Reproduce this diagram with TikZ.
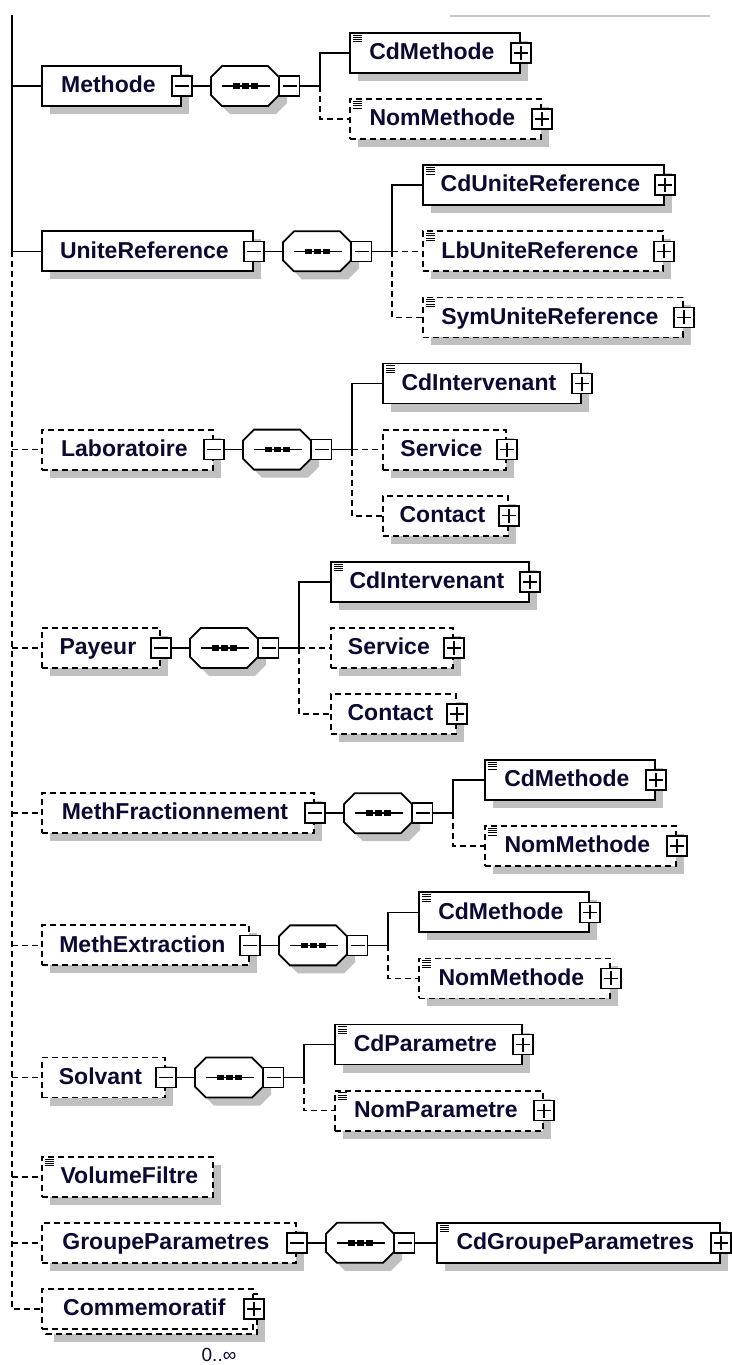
\documentclass[tikz,border=0pt]{standalone}
\usepackage{fontspec}
\setmainfont{Liberation Sans}
\usetikzlibrary{shadows}
\definecolor{txt}{RGB}{10,10,50}
\definecolor{shad}{RGB}{192,192,192}
\definecolor{topgray}{RGB}{200,200,200}
\newcommand\lblfont{\fontsize{23}{27}\selectfont\bfseries}
\newcommand\xicon[1]{\foreach \k in {3.2,5.4,7.6,9.8}{\draw[iconline] ([xshift=4pt,yshift=-\k pt]#1.north west) -- ++(9,0);}}
\newcommand\seqc[3]{%
  \begin{scope}[shift={(#2,#3)}]
    \fill[shad] (8,-1) -- (19,-12) -- (65,-12) -- (76,-1) -- (76,17) -- (65,28) -- (19,28) -- (8,17) -- cycle;
    \draw[seqline] (0,-9) -- (11,-20) -- (57,-20) -- (68,-9) -- (68,9) -- (57,20) -- (11,20) -- (0,9) -- cycle;
    \node[seqbox] (#1) at (34,0) {};
    \draw[conn] (11,0) -- (59,0);
    \foreach \d in {25.5,34.5,43.5}{\fill (\d-3.1,-2.7) rectangle (\d+3.1,2.7);}
    \node[minusbox] (#1m) at (78.5,0) {};
  \end{scope}}
\begin{document}
\begin{tikzpicture}[x=1pt,y=-1pt,
  conn/.style={draw=black,line width=1.6pt},
  dconn/.style={conn,dash pattern=on 6pt off 4pt},
  boxbase/.style={rectangle,draw=black,fill=white,line width=1.8pt,inner sep=0pt,minimum height=40pt,anchor=west,font=\lblfont,text=txt,text height=17.5pt,text depth=4.1pt},
  shadowed/.style={drop shadow={shadow xshift=8pt,shadow yshift=-8pt,fill=shad,opacity=1}},
  mandbox/.style={boxbase,shadowed},
  optbox/.style={boxbase,shadowed,dash pattern=on 6pt off 4pt},
  optnoshadow/.style={boxbase,dash pattern=on 6pt off 4pt},
  pmbase/.style={rectangle,draw=black,fill=white,line width=1.6pt,minimum size=20pt,inner sep=0pt,anchor=center},
  plusbox/.style={pmbase,path picture={\draw[line width=1.5pt] ([xshift=3pt]path picture bounding box.west) -- ([xshift=-3pt]path picture bounding box.east) ([yshift=-3pt]path picture bounding box.north) -- ([yshift=3pt]path picture bounding box.south);}},
  minusbox/.style={pmbase,path picture={\draw[line width=1.5pt] ([xshift=3pt]path picture bounding box.west) -- ([xshift=-3pt]path picture bounding box.east);}},
  seqline/.style={draw=black,fill=white,line width=1.8pt},
  seqbox/.style={rectangle,minimum width=68pt,minimum height=40pt,inner sep=0pt},
  iconline/.style={draw=black,line width=0.9pt},
  cardlabel/.style={font=\fontsize{19}{22}\selectfont,text=txt,inner sep=0pt}
]
\useasboundingbox (0,0) rectangle (731,1365);
\fill[white] (0,0) rectangle (731,1365);
\draw[topgray,line width=1.2pt] (450,16) -- (710,16);

% ---------- Methode
\node[mandbox,minimum width=139] (meth) at (41,86.05) {Methode\kern6pt};
\node[minusbox] (methpm) at (meth.east) {};
\seqc{sq1}{211}{86.05}
\coordinate (br1) at (320,86.05);
\node[mandbox,minimum width=170] (cdm1) at (349,53) {CdMethode\kern6pt};
\node[plusbox] (cdm1pm) at (cdm1.east) {};
\xicon{cdm1}
\node[optbox,minimum width=191] (nom1) at (349,119.1) {NomMethode\kern6pt};
\node[plusbox] (nom1pm) at (nom1.east) {};
\xicon{nom1}

% ---------- UniteReference
\node[mandbox,minimum width=211] (unite) at (41,251.3) {UniteReference\kern6pt};
\node[minusbox] (unitepm) at (unite.east) {};
\seqc{sq2}{283}{251.3}
\coordinate (br2) at (392,251.3);
\node[mandbox,minimum width=241] (cdu) at (422,185.2) {CdUniteReference\kern6pt};
\node[plusbox] (cdupm) at (cdu.east) {};
\xicon{cdu}
\node[optbox,minimum width=240] (lbu) at (422,251.3) {LbUniteReference\kern6pt};
\node[plusbox] (lbupm) at (lbu.east) {};
\xicon{lbu}
\node[optbox,minimum width=260] (symu) at (422,317.4) {SymUniteReference\kern6pt};
\node[plusbox] (symupm) at (symu.east) {};
\xicon{symu}

% ---------- Laboratoire
\node[optbox,minimum width=171] (lab) at (41,449.6) {Laboratoire\kern6pt};
\node[minusbox] (labpm) at (lab.east) {};
\seqc{sq3}{243}{449.6}
\coordinate (br3) at (352,449.6);
\node[mandbox,minimum width=198] (cdi3) at (382,383.5) {CdIntervenant\kern6pt};
\node[plusbox] (cdi3pm) at (cdi3.east) {};
\xicon{cdi3}
\node[optbox,minimum width=123] (serv3) at (382,449.6) {Service\kern6pt};
\node[plusbox] (serv3pm) at (serv3.east) {};
\node[optbox,minimum width=125] (cont3) at (382,515.7) {Contact\kern6pt};
\node[plusbox] (cont3pm) at (cont3.east) {};

% ---------- Payeur
\node[optbox,minimum width=118] (pay) at (41,647.9) {Payeur\kern6pt};
\node[minusbox] (paypm) at (pay.east) {};
\seqc{sq4}{190}{647.9}
\coordinate (br4) at (299,647.9);
\node[mandbox,minimum width=198] (cdi4) at (330,581.8) {CdIntervenant\kern6pt};
\node[plusbox] (cdi4pm) at (cdi4.east) {};
\xicon{cdi4}
\node[optbox,minimum width=122] (serv4) at (330,647.9) {Service\kern6pt};
\node[plusbox] (serv4pm) at (serv4.east) {};
\node[optbox,minimum width=125] (cont4) at (330,714) {Contact\kern6pt};
\node[plusbox] (cont4pm) at (cont4.east) {};

% ---------- MethFractionnement
\node[optbox,minimum width=272] (mf) at (41,813.15) {MethFractionnement\kern6pt};
\node[minusbox] (mfpm) at (mf.east) {};
\seqc{sq5}{344}{813.15}
\coordinate (br5) at (453,813.15);
\node[mandbox,minimum width=170] (cdm5) at (484,780.1) {CdMethode\kern6pt};
\node[plusbox] (cdm5pm) at (cdm5.east) {};
\xicon{cdm5}
\node[optbox,minimum width=191] (nom5) at (484,846.2) {NomMethode\kern6pt};
\node[plusbox] (nom5pm) at (nom5.east) {};
\xicon{nom5}

% ---------- MethExtraction
\node[optbox,minimum width=207] (me) at (41,945.35) {MethExtraction\kern6pt};
\node[minusbox] (mepm) at (me.east) {};
\seqc{sq6}{279}{945.35}
\coordinate (br6) at (388,945.35);
\node[mandbox,minimum width=170] (cdm6) at (418,912.3) {CdMethode\kern6pt};
\node[plusbox] (cdm6pm) at (cdm6.east) {};
\xicon{cdm6}
\node[optbox,minimum width=191] (nom6) at (418,978.4) {NomMethode\kern6pt};
\node[plusbox] (nom6pm) at (nom6.east) {};
\xicon{nom6}

% ---------- Solvant
\node[optbox,minimum width=123] (solv) at (41,1077.55) {Solvant\kern6pt};
\node[minusbox] (solvpm) at (solv.east) {};
\seqc{sq7}{195}{1077.55}
\coordinate (br7) at (304,1077.55);
\node[mandbox,minimum width=187] (cdp7) at (334,1044.5) {CdParametre\kern6pt};
\node[plusbox] (cdp7pm) at (cdp7.east) {};
\xicon{cdp7}
\node[optbox,minimum width=208] (nomp7) at (334,1110.6) {NomParametre\kern6pt};
\node[plusbox] (nomp7pm) at (nomp7.east) {};
\xicon{nomp7}

% ---------- VolumeFiltre
\node[optbox,minimum width=171] (vf) at (41,1176.7) {\kern4pt VolumeFiltre};
\xicon{vf}

% ---------- GroupeParametres
\node[optbox,minimum width=254] (gp) at (41,1242.8) {GroupeParametres\kern6pt};
\node[minusbox] (gppm) at (gp.east) {};
\seqc{sq8}{326}{1242.8}
\node[mandbox,minimum width=283] (cdgp) at (436,1242.8) {CdGroupeParametres\kern6pt};
\node[plusbox] (cdgppm) at (cdgp.east) {};
\xicon{cdgp}

% ---------- Commemoratif (0..unbounded)
\fill[shad] (54,1301.9) rectangle (265,1341.9);
\draw[line width=1.8pt,dash pattern=on 6pt off 4pt,fill=white] (46,1293.9) rectangle (257,1333.9);
\node[optnoshadow,minimum width=211] (comm) at (41,1308.9) {Commemoratif\kern6pt};
\node[plusbox] (commpm) at (comm.east) {};
\node[cardlabel] (card) at (219,1355) {0..∞};

% ---------- trunk
\coordinate (ttop) at (12,15);
\coordinate (tsplit) at (12,251.3);
\coordinate (tbot) at (12,1308.9);
\draw[conn] (ttop) -- (tsplit) -- (unite.west);
\draw[conn] (meth.west -| ttop) -- (meth.west);
\draw[dconn] (tsplit) -- (tbot) -- (comm.west);
\foreach \n in {lab,pay,mf,me,solv,vf,gp}{\draw[dconn] (\n.west -| ttop) -- (\n.west);}

% ---------- element to sequence
\foreach \p/\s in {methpm/sq1,unitepm/sq2,labpm/sq3,paypm/sq4,mfpm/sq5,mepm/sq6,solvpm/sq7,gppm/sq8}{\draw[conn] (\p.east) -- (\s.west);}

% ---------- sequence branches
\draw[conn] (sq1m.east) -- (br1) |- (cdm1.west);
\draw[dconn] (br1) |- (nom1.west);
\draw[conn] (sq2m.east) -- (br2) |- (cdu.west);
\draw[dconn] (br2) -- (lbu.west);
\draw[dconn] (br2) |- (symu.west);
\draw[conn] (sq3m.east) -- (br3) |- (cdi3.west);
\draw[dconn] (br3) -- (serv3.west);
\draw[dconn] (br3) |- (cont3.west);
\draw[conn] (sq4m.east) -- (br4) |- (cdi4.west);
\draw[dconn] (br4) -- (serv4.west);
\draw[dconn] (br4) |- (cont4.west);
\draw[conn] (sq5m.east) -- (br5) |- (cdm5.west);
\draw[dconn] (br5) |- (nom5.west);
\draw[conn] (sq6m.east) -- (br6) |- (cdm6.west);
\draw[dconn] (br6) |- (nom6.west);
\draw[conn] (sq7m.east) -- (br7) |- (cdp7.west);
\draw[dconn] (br7) |- (nomp7.west);
\draw[conn] (sq8m.east) -- (cdgp.west);
\end{tikzpicture}
\end{document}
